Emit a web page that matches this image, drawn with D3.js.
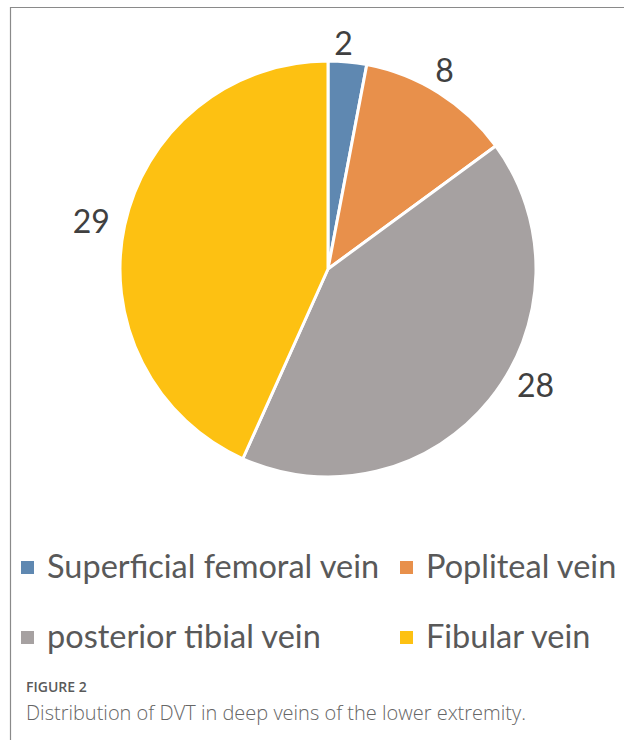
<!DOCTYPE html>
<html>
<head>
<meta charset="utf-8">
<script src="https://cdn.jsdelivr.net/npm/d3@7"></script>
<style>
  html, body { margin: 0; padding: 0; background: #fff; }
  #chart { width: 624px; height: 740px; }
</style>
</head>
<body>
<div id="chart"></div>
<script>
// data
const veins = ["Superficial femoral vein", "Popliteal vein", "posterior tibial vein", "Fibular vein"];
const counts = [2, 8, 28, 29];
const colors = ["#5f88b1", "#e8904b", "#a6a1a1", "#fdc112"];

const width = 624;
const height = 740;
const cx = 328, cy = 269, radius = 208;

const svg = d3.select("#chart").append("svg")
  .attr("width", width)
  .attr("height", height);

// frame (right & bottom edges fall off the page)
svg.append("path")
  .attr("d", `M${width + 5},7.5 H10.5 V${height + 5}`)
  .attr("fill", "none")
  .attr("stroke", "#8a8a8a")
  .attr("stroke-width", 1.2);

const color = d3.scaleOrdinal().domain(veins).range(colors);

const pie = d3.pie().sort(null).value((d, i) => counts[i]);
const arcs = pie(veins);

const arc = d3.arc().innerRadius(0).outerRadius(radius);

const g = svg.append("g").attr("transform", `translate(${cx},${cy})`);

g.selectAll("path.slice")
  .data(arcs)
  .join("path")
  .attr("class", "slice")
  .attr("d", arc)
  .attr("fill", (d) => color(d.data))
  .attr("stroke", "#fff")
  .attr("stroke-width", 3)
  .attr("stroke-linejoin", "round");

// value labels outside the slices
// small angular nudge (radians), excel's best-fit placement
const labelTurn = [-0.03, -0.06, -0.14, 0];
const rx = radius + 34, ry = radius + 18;

g.selectAll("text.val")
  .data(arcs)
  .join("text")
  .attr("class", "val")
  .attr("transform", (d, i) => {
    const a = (d.startAngle + d.endAngle) / 2 + labelTurn[i];
    return `translate(${Math.sin(a) * rx},${-Math.cos(a) * ry})`;
  })
  .attr("text-anchor", "middle")
  .attr("dy", "0.36em")
  .attr("font-family", "Lato, 'Open Sans', sans-serif")
  .attr("font-size", 32)
  .attr("fill", "#404040")
  .text((d, i) => counts[i]);

// legend
const legendX = [21, 400];
const legendY = [578, 648];

const legend = svg.append("g").attr("class", "legend");

const item = legend.selectAll("g")
  .data(veins)
  .join("g")
  .attr("transform", (d, i) => `translate(${legendX[i % 2]},${legendY[Math.floor(i / 2)]})`);

item.append("rect")
  .attr("x", 0)
  .attr("y", -17)
  .attr("width", 13)
  .attr("height", 13)
  .attr("fill", (d) => color(d));

item.append("text")
  .attr("x", 26)
  .attr("y", 0)
  .attr("font-family", "Lato, 'Open Sans', sans-serif")
  .attr("font-size", 32.5)
  .attr("fill", "#595959")
  .text((d) => d);

// caption
svg.append("text")
  .attr("x", 26)
  .attr("y", 692)
  .attr("font-family", "'Open Sans', sans-serif")
  .attr("font-size", 14)
  .attr("font-weight", 600)
  .attr("fill", "#5a5a5a")
  .text("FIGURE 2");

svg.append("text")
  .attr("x", 26)
  .attr("y", 720)
  .attr("font-family", "'Open Sans', sans-serif")
  .attr("font-size", 20)
  .attr("font-weight", 300)
  .attr("fill", "#666")
  .text("Distribution of DVT in deep veins of the lower extremity.");
</script>
</body>
</html>
